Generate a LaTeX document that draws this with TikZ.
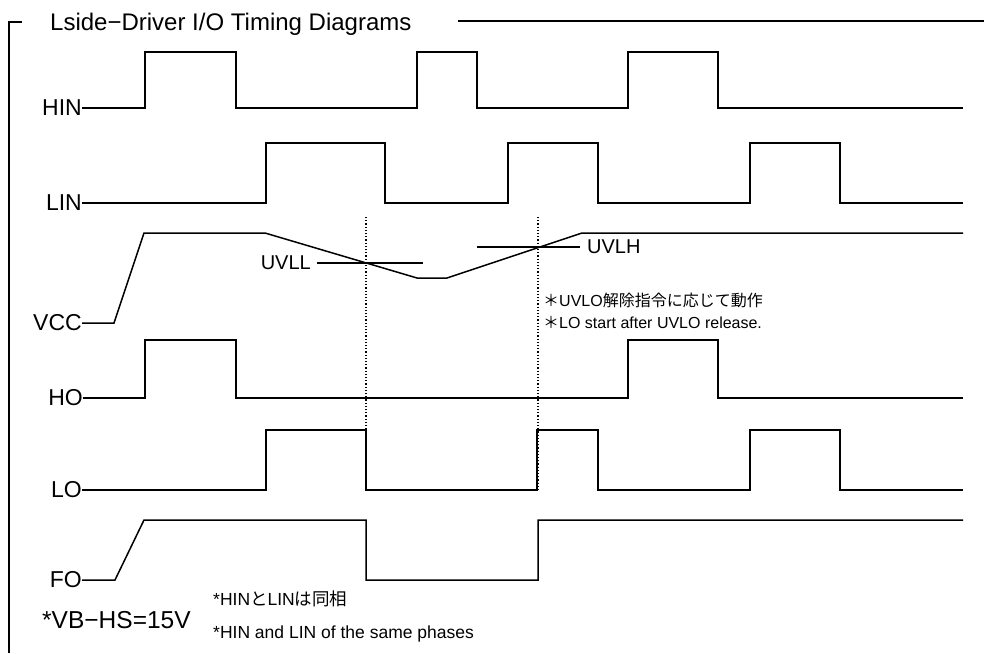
\documentclass[tikz,border=0pt]{standalone}
\usepackage{fontspec}
\setmainfont{Liberation Sans}
\newfontfamily\jp{Noto Sans CJK JP}
\begin{document}
\begin{tikzpicture}[x=1pt,y=-1pt,
  sig/.style={line width=1.5pt, line join=miter, black},
  frame/.style={line width=1.3pt, black},
  dots/.style={line width=1.2pt, dotted, black},
  lab/.style={font=\fontsize{23}{25}\selectfont, inner sep=0pt, anchor=east},
  uv/.style={font=\fontsize{20}{22}\selectfont, inner sep=0pt},
  note/.style={font=\fontsize{16}{18}\selectfont, inner sep=0pt, anchor=base west},
  bnote/.style={font=\fontsize{17.5}{19}\selectfont, inner sep=0pt, anchor=base west}]
\useasboundingbox (0,0) rectangle (984,653);
% frame and title
\node[font=\fontsize{24}{26}\selectfont, inner sep=0pt, anchor=base west] (title) at (50,30) {Lside−Driver I/O Timing Diagrams};
\coordinate (fl) at (9,22);
\coordinate (fb) at (9,653);
\coordinate (fr) at (984,21);
\draw[frame] (fb) -- (fl) -- (22,22);
\draw[frame] (458,21) -- (fr);
% labels
\node[lab] (hin) at (82,108) {HIN};
\node[lab] (lin) at (82,203) {LIN};
\node[lab] (vcc) at (82,323) {VCC};
\node[lab] (ho)  at (83,398) {HO};
\node[lab] (lo)  at (82,490) {LO};
\node[lab] (fo)  at (82,580) {FO};
% HIN
\draw[sig] (hin.east) -- (145,108) -- (145,52) -- (236,52) -- (236,108) -- (417,108) -- (417,52) -- (477,52) -- (477,108) -- (628,108) -- (628,52) -- (718,52) -- (718,108) -- (963,108);
% LIN
\draw[sig] (lin.east) -- (266,203) -- (266,143) -- (385,143) -- (385,203) -- (508,203) -- (508,143) -- (598,143) -- (598,203) -- (750,203) -- (750,143) -- (840,143) -- (840,203) -- (963,203);
% VCC
\draw[sig] (vcc.east) -- (114,323) -- (144,233) -- (265,233) -- (417,278) -- (447,278) -- (582,233) -- (963,233);
\node[uv, anchor=east] (uvll) at (311,263) {UVLL};
\draw[sig] ([xshift=6]uvll.east) -- (423,263);
\node[uv, anchor=west] (uvlh) at (587,247) {UVLH};
\draw[sig] (477,247) -- ([xshift=-7]uvlh.west);
% dotted markers
\coordinate (d1t) at (366,217);
\coordinate (d1b) at (366,490);
\coordinate (d2t) at (538,217);
\coordinate (d2b) at (538,492);
\draw[dots] (d1t) -- (d1b);
\draw[dots] (d2t) -- (d2b);
% notes
\node[note] (n1) at (543,306) {{\jp ＊}UVLO{\jp 解除指令に応じて動作}};
\node[note] (n2) at (543,328) {{\jp ＊}LO start after UVLO release.};
% HO
\draw[sig] (ho.east) -- (145,398) -- (145,340) -- (236,340) -- (236,398) -- (628,398) -- (628,340) -- (718,340) -- (718,398) -- (963,398);
% LO
\draw[sig] (lo.east) -- (266,490) -- (266,430) -- (366,430) -- (366,490) -- (537,490) -- (537,430) -- (598,430) -- (598,490) -- (750,490) -- (750,430) -- (840,430) -- (840,490) -- (963,490);
% FO
\draw[sig] (fo.east) -- (115,580) -- (144,520) -- (366,520) -- (366,580) -- (538,580) -- (538,520) -- (963,520);
% bottom notes
\node[font=\fontsize{24.5}{26}\selectfont, inner sep=0pt, anchor=base west] (vb) at (42,628) {*VB−HS=15V};
\node[bnote] (b1) at (213,605) {*HIN{\jp と}LIN{\jp は同相}};
\node[bnote] (b2) at (213,638) {*HIN and LIN of the same phases};
\end{tikzpicture}
\end{document}
